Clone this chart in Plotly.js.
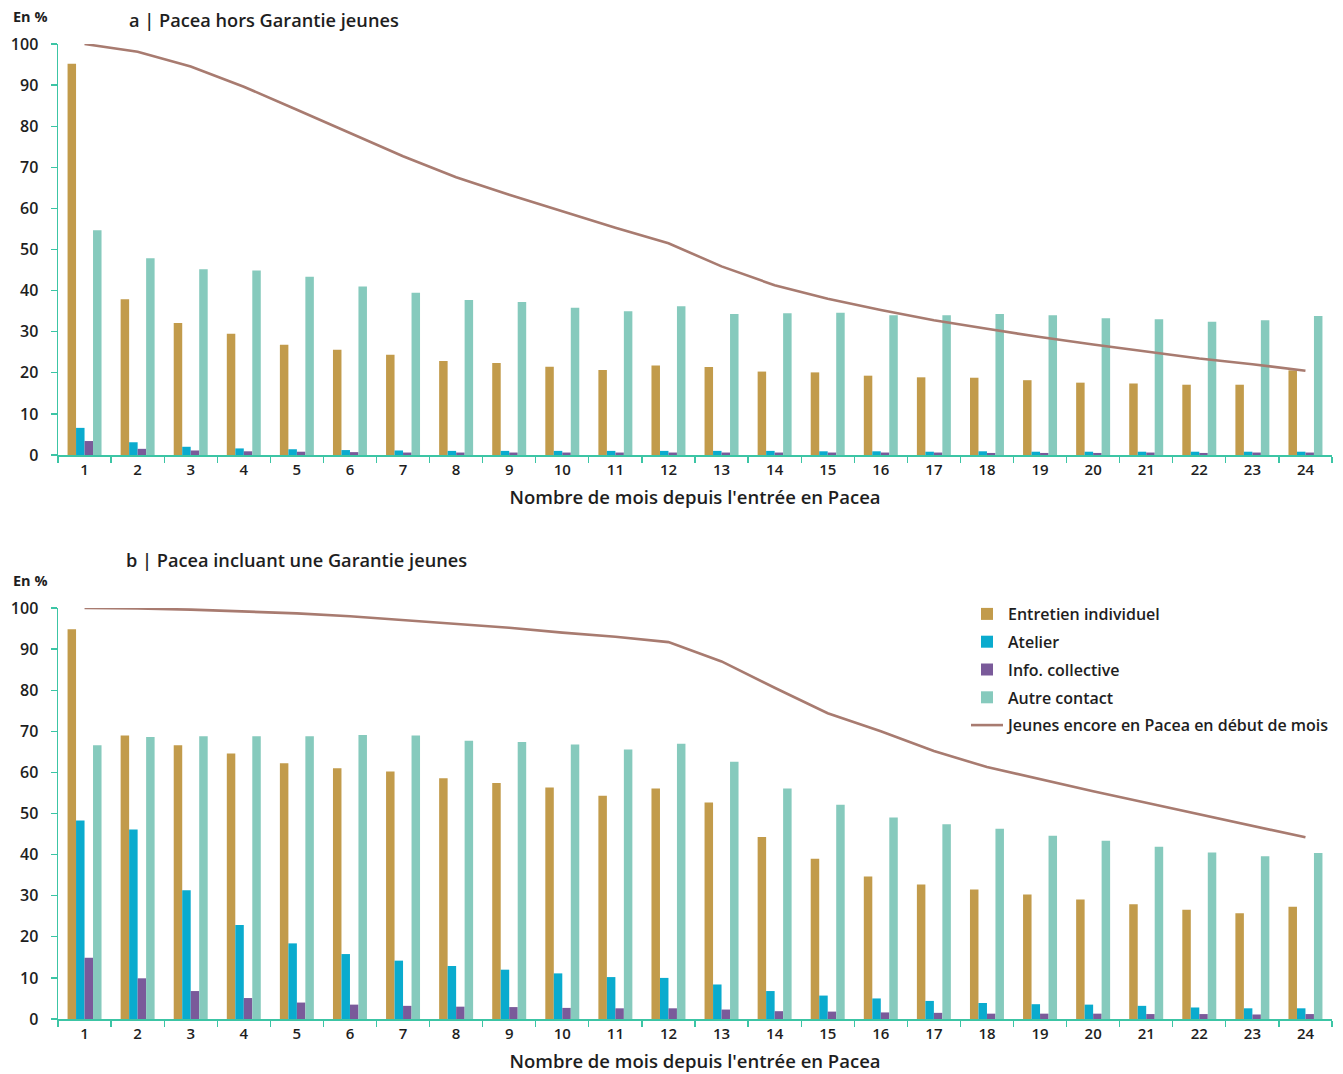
<!DOCTYPE html>
<html>
<head>
<meta charset="utf-8">
<script src="https://cdn.plot.ly/plotly-3.0.1.min.js"></script>
<style>html,body{margin:0;padding:0;background:#fff;}#chart{width:1343px;height:1074px;}</style>
</head>
<body>
<div id="chart"></div>
<script>
const months = ["1","2","3","4","5","6","7","8","9","10","11","12","13","14","15","16","17","18","19","20","21","22","23","24"];

// a | Pacea hors Garantie jeunes
const entretienA = [95.2, 37.9, 32.1, 29.5, 26.8, 25.6, 24.4, 22.9, 22.4, 21.5, 20.7, 21.8, 21.4, 20.3, 20.1, 19.3, 18.9, 18.8, 18.2, 17.6, 17.4, 17.1, 17.1, 20.6];
const atelierA   = [6.6, 3.1, 2.0, 1.6, 1.4, 1.2, 1.1, 1.0, 1.0, 1.0, 1.0, 1.0, 1.0, 1.0, 0.9, 0.9, 0.8, 0.9, 0.8, 0.8, 0.8, 0.8, 0.8, 0.8];
const infoA      = [3.4, 1.5, 1.1, 0.9, 0.8, 0.7, 0.6, 0.6, 0.6, 0.6, 0.6, 0.6, 0.6, 0.6, 0.6, 0.6, 0.6, 0.5, 0.5, 0.5, 0.6, 0.5, 0.6, 0.6];
const autreA     = [54.7, 47.9, 45.2, 44.9, 43.4, 41.0, 39.5, 37.7, 37.2, 35.8, 35.0, 36.2, 34.3, 34.5, 34.6, 34.0, 34.0, 34.3, 34.0, 33.3, 33.0, 32.4, 32.8, 33.8];
const encoreA    = [100, 98.1, 94.5, 89.6, 84.0, 78.4, 72.7, 67.6, 63.3, 59.3, 55.3, 51.5, 45.9, 41.3, 38.0, 35.3, 32.8, 30.7, 28.7, 26.9, 25.2, 23.5, 22.1, 20.5];

// b | Pacea incluant une Garantie jeunes
const entretienB = [94.8, 69.0, 66.6, 64.6, 62.2, 61.0, 60.2, 58.6, 57.4, 56.3, 54.3, 56.1, 52.7, 44.3, 39.0, 34.7, 32.7, 31.5, 30.3, 29.1, 27.9, 26.6, 25.7, 27.3];
const atelierB   = [48.3, 46.1, 31.3, 22.9, 18.4, 15.8, 14.2, 12.9, 12.0, 11.1, 10.2, 10.0, 8.4, 6.8, 5.7, 5.0, 4.4, 3.9, 3.6, 3.5, 3.2, 2.8, 2.6, 2.6];
const infoB      = [14.9, 9.9, 6.8, 5.1, 4.0, 3.5, 3.2, 3.0, 2.9, 2.7, 2.6, 2.6, 2.3, 1.9, 1.8, 1.6, 1.5, 1.3, 1.3, 1.3, 1.2, 1.2, 1.1, 1.2];
const autreB     = [66.6, 68.6, 68.8, 68.8, 68.8, 69.1, 69.0, 67.7, 67.4, 66.8, 65.6, 67.0, 62.6, 56.1, 52.1, 49.0, 47.4, 46.3, 44.6, 43.4, 41.9, 40.5, 39.6, 40.4];
const encoreB    = [100, 99.9, 99.6, 99.2, 98.7, 98.0, 97.1, 96.2, 95.2, 94.0, 93.0, 91.7, 87.0, 80.6, 74.4, 70.0, 65.2, 61.3, 58.3, 55.4, 52.6, 49.8, 47.1, 44.2];

const seriesNames = ["Entretien individuel", "Atelier", "Info. collective", "Autre contact", "Jeunes encore en Pacea en début de mois"];
const panelTitles = ["a | Pacea hors Garantie jeunes", "b | Pacea incluant une Garantie jeunes"];
const xTitle = "Nombre de mois depuis l'entrée en Pacea";
const yUnit = "En %";

const colors = ["#C29B4B", "#0AABCE", "#7A5A9A", "#86CABD", "#A87B70"];
const axisColor = "#3CC5A5";
const textColor = "#1E1E1E";
const FONT = "Open Sans, Lato, sans-serif";

const W = 1343, H = 1074;
const py = p => 1 - p / H;

function barTrace(name, y, color, xa, ya, show) {
  return {type: "bar", name: name, x: months, y: y, xaxis: xa, yaxis: ya,
    marker: {color: color, line: {width: 0}}, showlegend: show, legendgroup: name, hoverinfo: "x+y"};
}
function lineTrace(name, y, xa, ya, show) {
  return {type: "scatter", mode: "lines", name: name, x: months, y: y, xaxis: xa, yaxis: ya,
    line: {color: colors[4], width: 2.6}, cliponaxis: false, showlegend: show, legendgroup: name};
}

const data = [
  barTrace(seriesNames[0], entretienA, colors[0], "x", "y", false),
  barTrace(seriesNames[1], atelierA, colors[1], "x", "y", false),
  barTrace(seriesNames[2], infoA, colors[2], "x", "y", false),
  barTrace(seriesNames[3], autreA, colors[3], "x", "y", false),
  lineTrace(seriesNames[4], encoreA, "x", "y", false),
  barTrace(seriesNames[0], entretienB, colors[0], "x2", "y2", true),
  barTrace(seriesNames[1], atelierB, colors[1], "x2", "y2", true),
  barTrace(seriesNames[2], infoB, colors[2], "x2", "y2", true),
  barTrace(seriesNames[3], autreB, colors[3], "x2", "y2", true),
  lineTrace(seriesNames[4], encoreB, "x2", "y2", true)
];

function xAxis(anchor) {
  return {anchor: anchor, domain: [0, 1], type: "category", range: [-0.5, 23.5],
    showline: true, linecolor: axisColor, linewidth: 1.5, showgrid: false, zeroline: false,
    ticks: "outside", tickson: "boundaries", ticklen: 6, tickcolor: axisColor, tickwidth: 1.3,
    tickfont: {family: FONT, size: 15, color: textColor, weight: 600}, automargin: false,
    title: {text: xTitle, font: {family: FONT, size: 18.5, color: textColor, weight: 600}, standoff: 13}};
}
function yAxis(anchor, dom) {
  return {anchor: anchor, domain: dom, range: [0, 100], dtick: 10, tick0: 0,
    showline: true, linecolor: axisColor, linewidth: 1.5, showgrid: false, zeroline: false,
    ticks: "outside", ticklen: 6, tickcolor: axisColor, tickwidth: 1.3, ticklabelstandoff: 9,
    tickfont: {family: FONT, size: 16, color: textColor, weight: 600}, automargin: false};
}

const layout = {
  width: W, height: H,
  margin: {l: 58, r: 11, t: 0, b: 0},
  paper_bgcolor: "#fff", plot_bgcolor: "#fff",
  barmode: "group", bargap: 0.36, bargroupgap: 0,
  font: {family: FONT, color: textColor},
  xaxis: xAxis("y"),
  yaxis: yAxis("x", [py(455), py(44)]),
  xaxis2: xAxis("y2"),
  yaxis2: yAxis("x2", [py(1019), py(608)]),
  legend: {x: (966 - 58) / 1274, xanchor: "left", y: py(597), yanchor: "top",
    font: {family: FONT, size: 16, color: textColor, weight: 600},
    bgcolor: "rgba(0,0,0,0)", tracegroupgap: 4, itemwidth: 32},
  annotations: [
    {text: yUnit, xref: "paper", yref: "paper", x: -47 / 1274, y: py(17), xanchor: "left", yanchor: "middle", showarrow: false,
     font: {family: FONT, size: 14.5, color: textColor, weight: 700}},
    {text: yUnit, xref: "paper", yref: "paper", x: -47 / 1274, y: py(580), xanchor: "left", yanchor: "middle", showarrow: false,
     font: {family: FONT, size: 14.5, color: textColor, weight: 700}},
    {text: panelTitles[0], xref: "paper", yref: "paper", x: (127 - 58) / 1274, y: py(20), xanchor: "left", yanchor: "middle", showarrow: false,
     font: {family: FONT, size: 18.2, color: textColor, weight: 600}},
    {text: panelTitles[1], xref: "paper", yref: "paper", x: (124 - 58) / 1274, y: py(560), xanchor: "left", yanchor: "middle", showarrow: false,
     font: {family: FONT, size: 18.2, color: textColor, weight: 600}}
  ]
};

Plotly.newPlot("chart", data, layout, {displayModeBar: false, staticPlot: true});
</script>
</body>
</html>
